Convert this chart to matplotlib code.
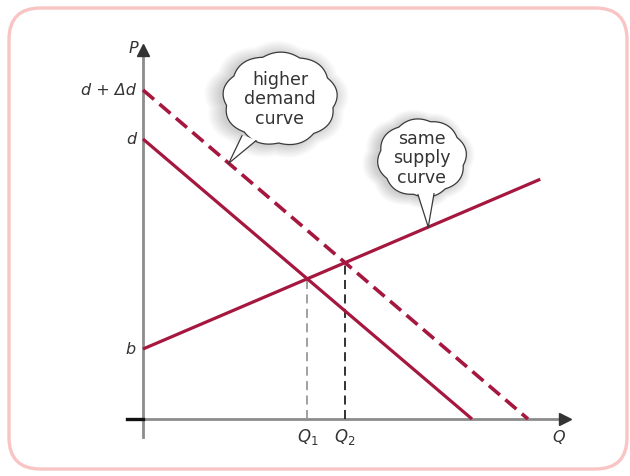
"""
Shift in demand: higher demand curve vs same supply curve.
"""

import numpy as np
import matplotlib
matplotlib.use("Agg")
import matplotlib.pyplot as plt
from matplotlib.patches import FancyBboxPatch, Polygon

# ---- data (abstract price / quantity units) ---------------------
demand_q = [0.0, 9.4]
demand_p = [8.0, 0.0]
demand_hi_q = [0.0, 11.0]
demand_hi_p = [9.4, 0.0]
supply_q = [0.0, 11.35]
supply_p = [2.0, 6.85]

axis_labels = {"P": "P", "Q": "Q"}
price_labels = ["d + \u0394d", "d", "b"]
qty_labels = [r"$Q_1$", r"$Q_2$"]
callouts = [["higher", "demand", "curve"], ["same", "supply", "curve"]]

RED = "#a6173f"
TXT = "#333333"
AX_GRAY = "#8c8c8c"
SCALE = 35.0          # pixels per unit
ORIGIN = (143, 420)   # pixel position of (0, 0), y from top
W, H = 630, 477

plt.rcParams["font.family"] = ["DejaVu Sans"]
plt.rcParams["mathtext.fontset"] = "dejavusans"


def line_fn(qs, ps):
    slope = (ps[1] - ps[0]) / (qs[1] - qs[0])
    return ps[0], slope


def cross(l1, l2):
    a1, s1 = l1
    a2, s2 = l2
    q = (a2 - a1) / (s1 - s2)
    return q, a1 + s1 * q


def cloud(ax, cx, cy, rx, ry, nb, tail_base, tip, lines):
    th = np.linspace(0, 2 * np.pi, 600)
    r = 1.0 + 0.065 * np.abs(np.sin(nb * (th + 0.2) / 2))
    xs = cx + rx * r * np.cos(th)
    ys = cy + ry * r * np.sin(th)
    # soft shadow
    for k in range(16):
        f = 1.0 + 0.018 * k
        ax.fill(cx - 0.1 + (xs - cx) * f, cy - 0.03 + (ys - cy) * f,
                color="black", alpha=0.011, lw=0, zorder=5)
    ax.fill(xs, ys, facecolor="white", edgecolor="#3a3a3a", lw=0.9, zorder=6)
    (b1x, b1y), (b2x, b2y) = tail_base
    tri = Polygon([(b1x, b1y), tip, (b2x, b2y)], closed=True,
                  facecolor="white", edgecolor="none", zorder=7)
    ax.add_patch(tri)
    ax.plot([b1x, tip[0]], [b1y - 0.02, tip[1]], color="#3a3a3a", lw=0.9, zorder=8)
    ax.plot([b2x, tip[0]], [b2y - 0.02, tip[1]], color="#3a3a3a", lw=0.9, zorder=8)
    ax.text(cx, cy + 0.02, "\n".join(lines), ha="center", va="center",
            fontsize=12.5, color=TXT, linespacing=1.12, zorder=9)


fig = plt.figure(figsize=(W / 100, H / 100), dpi=100)
ax = fig.add_axes([0, 0, 1, 1])
x0, y0 = ORIGIN
ax.set_xlim(-x0 / SCALE, (W - x0) / SCALE)
ax.set_ylim(-(H - y0) / SCALE, y0 / SCALE)
ax.axis("off")


def px(x, y):
    return (x - x0) / SCALE, (y0 - y) / SCALE


# frame
fx, fy = px(9, 470)
ax.add_patch(FancyBboxPatch((fx, fy), 618 / SCALE, 461 / SCALE,
                            boxstyle="round,pad=0,rounding_size=0.9",
                            facecolor="white", edgecolor="#f9c4c4", lw=2.4,
                            zorder=0))

# axes
ax.plot([0, 0], [-0.5, 10.5], color=AX_GRAY, lw=2.0, zorder=2)
ax.plot([-0.45, 12.0], [0, 0], color=AX_GRAY, lw=2.0, zorder=2)
ax.plot([-0.45, 0], [0, 0], color="#111111", lw=2.4, zorder=3)
ax.plot([0], [10.55], marker="^", ms=8, color="#333333", zorder=3)
ax.plot([12.05], [0], marker=">", ms=8, color="#333333", zorder=3)

dem = line_fn(demand_q, demand_p)
dem_hi = line_fn(demand_hi_q, demand_hi_p)
sup = line_fn(supply_q, supply_p)
q1, p1 = cross(dem, sup)
q2, p2 = cross(dem_hi, sup)

# equilibrium drop lines
ax.plot([q1, q1], [0, p1], color="#999999", lw=1.3, ls=(0, (5, 3)), zorder=3)
ax.plot([q2, q2], [0, p2], color="#222222", lw=1.3, ls=(0, (5, 3)), zorder=3)

ax.plot(supply_q, supply_p, color=RED, lw=2.3, solid_capstyle="butt", zorder=4)
ax.plot(demand_q, demand_p, color=RED, lw=2.3, solid_capstyle="butt", zorder=4)
ax.plot(demand_hi_q, demand_hi_p, color=RED, lw=2.6, ls=(0, (4, 2)), zorder=4)

# labels
lab = dict(fontsize=11.5, color=TXT, style="italic")
ax.text(-0.15, 10.6, axis_labels["P"], ha="right", va="center", **lab)
ax.text(11.7, -0.5, axis_labels["Q"], ha="left", va="center", **lab)
for txt, val in zip(price_labels, [demand_hi_p[0], demand_p[0], supply_p[0]]):
    ax.text(-0.2, val, txt, ha="right", va="center", **lab)
for txt, val in zip(qty_labels, [q1, q2]):
    ax.text(val, -0.5, txt, ha="center", va="center", fontsize=12, color=TXT)

# callouts
tq = 2.45
tip1 = (tq, dem_hi[0] + dem_hi[1] * tq)
cloud(ax, *px(280, 100), 54 / SCALE, 44 / SCALE, 9,
      [px(242, 136), px(256, 141)], tip1, callouts[0])
tq = 8.15
tip2 = (tq, sup[0] + sup[1] * tq)
cloud(ax, *px(422, 159), 42 / SCALE, 37 / SCALE, 8,
      [px(418, 195), px(434, 194)], tip2, callouts[1])

fig.savefig("out.png", dpi=100)
